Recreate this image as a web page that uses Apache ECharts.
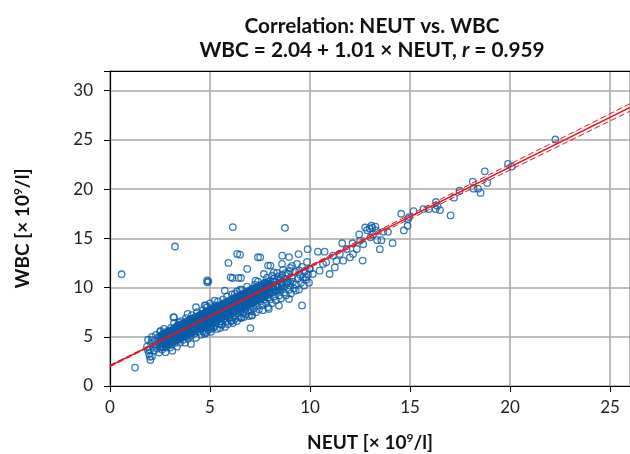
<!DOCTYPE html>
<html><head><meta charset="utf-8">
<script src="https://cdn.jsdelivr.net/npm/echarts@6/dist/echarts.min.js"></script>
<style>html,body{margin:0;padding:0;background:#fff}#c{width:630px;height:454px}</style>
</head><body><div id="c"></div>
<script>
// ---- data (NEUT x, WBC y) ----
const cloudLow = [[1.85,4.0],[1.9,4.7],[1.95,3.3],[2.0,3.7],[2.05,4.3],[2.1,3.0],[2.1,5.0],[2.15,4.0],[2.2,3.6],[2.25,4.6],[2.3,4.2],[2.3,5.2],[2.35,3.8],[2.4,4.9],[2.45,3.4],[2.5,4.4],[2.5,5.5],[2.55,4.0],[2.6,4.8],[2.6,3.7],[2.65,5.3],[2.7,4.3],[2.7,5.8],[2.75,4.9],[2.8,3.9],[2.8,4.6],[2.85,5.2],[2.9,4.2],[2.9,5.6],[2.95,4.8],[3.0,3.9],[3.0,5.0],[3.05,4.5],[3.05,5.9],[3.1,5.3],[3.1,4.2],[3.15,4.8],[3.2,5.6],[3.2,6.4],[3.25,4.4],[3.25,5.1],[3.3,4.9],[3.3,5.9],[3.35,4.0],[3.35,5.4],[3.4,6.2],[3.4,4.7],[3.45,5.2],[3.5,5.7],[3.5,4.4],[3.55,6.6],[3.55,5.0],[3.6,5.5],[3.6,6.0],[3.65,4.7],[3.7,5.2],[3.7,6.3],[3.75,5.8],[3.75,4.4],[3.8,5.5],[3.8,6.9],[3.85,5.0],[3.85,6.1],[3.9,5.7],[3.9,4.8],[3.95,6.4],[3.95,5.3],[2.02,2.64],[1.99,2.98],[1.89,3.66],[2.1,4.67],[3.2,6.97],[3.45,6.46],[3.88,7.32],[3.12,3.59],[2.78,3.42],[4.05,4.27],[2.53,5.6],[2.7,5.3]];
const cloudMid = [[4.0,5.9],[4.0,6.8],[4.05,5.1],[4.05,6.3],[4.1,5.6],[4.1,7.2],[4.15,6.0],[4.15,6.6],[4.2,5.3],[4.2,6.2],[4.25,7.0],[4.25,5.8],[4.3,6.5],[4.3,4.9],[4.35,6.0],[4.35,7.5],[4.4,5.5],[4.4,6.7],[4.45,6.2],[4.45,7.1],[4.5,5.8],[4.5,6.5],[4.55,5.2],[4.55,7.3],[4.6,6.1],[4.6,6.9],[4.65,5.6],[4.65,7.7],[4.7,6.4],[4.7,7.0],[4.75,5.9],[4.75,6.7],[4.8,5.4],[4.8,7.4],[4.85,6.2],[4.85,8.0],[4.9,6.8],[4.9,5.7],[4.95,7.2],[4.95,6.4],[5.0,6.0],[5.0,7.6],[5.0,8.4],[5.05,6.7],[5.05,5.5],[5.1,7.0],[5.1,6.3],[5.15,7.9],[5.15,5.9],[5.2,6.8],[5.2,7.4],[5.25,6.1],[5.25,8.2],[5.3,7.1],[5.3,6.5],[5.35,5.8],[5.35,7.7],[5.4,6.9],[5.4,8.6],[5.45,6.3],[5.45,7.4],[5.5,7.0],[5.5,5.9],[5.55,8.0],[5.55,6.6],[5.6,7.3],[5.6,6.2],[5.65,7.8],[5.65,8.8],[5.7,6.8],[5.7,7.5],[5.75,6.0],[5.75,8.3],[5.8,7.1],[5.8,6.5],[5.85,7.9],[5.85,9.1],[5.9,7.4],[5.9,6.3],[5.95,8.1],[5.95,6.9],[4.3,8.0],[4.73,8.2],[4.72,5.45],[5.06,5.96],[4.8,8.2],[5.23,8.67],[5.74,9.69],[5.57,6.3],[5.07,5.8],[4.74,5.29]];
const cloudHigh = [[6.0,7.2],[6.0,8.6],[6.05,6.6],[6.05,7.8],[6.1,7.0],[6.1,9.3],[6.15,8.2],[6.15,6.4],[6.2,7.6],[6.2,8.9],[6.25,7.1],[6.25,6.8],[6.3,8.4],[6.3,7.9],[6.35,6.6],[6.35,9.6],[6.4,7.4],[6.4,8.7],[6.45,8.0],[6.45,7.0],[6.5,9.1],[6.5,7.7],[6.55,6.9],[6.55,8.4],[6.6,8.0],[6.6,9.8],[6.65,7.4],[6.65,8.8],[6.7,7.0],[6.7,8.3],[6.75,9.3],[6.75,7.8],[6.8,8.6],[6.8,7.3],[6.85,10.1],[6.85,8.1],[6.9,7.6],[6.9,9.0],[6.95,8.4],[6.95,7.1],[7.0,9.5],[7.0,8.0],[7.05,7.6],[7.05,8.8],[7.1,9.9],[7.1,7.2],[7.15,8.4],[7.2,9.2],[7.2,7.9],[7.25,10.3],[7.25,8.7],[7.3,7.5],[7.3,9.6],[7.35,8.2],[7.4,9.0],[7.4,10.6],[7.45,7.8],[7.5,8.6],[7.5,9.4],[7.55,10.0],[7.6,8.2],[7.6,9.1],[7.65,7.7],[7.7,9.7],[7.7,8.8],[7.75,10.5],[7.8,8.4],[7.8,9.3],[7.85,11.0],[7.9,9.0],[7.9,8.0],[7.95,9.9],[6.24,9.35],[6.5,9.8],[7.28,10.7],[7.69,11.38],[8.19,11.55],[6.08,6.64],[6.58,6.98],[7.09,7.15],[7.94,7.83],[8.45,8.17],[8.95,8.84]];
const cloudTop = [[8.0,8.8],[8.0,10.3],[8.05,9.5],[8.1,8.4],[8.1,11.2],[8.15,9.9],[8.2,9.1],[8.25,10.6],[8.3,8.7],[8.3,9.6],[8.35,11.5],[8.4,10.1],[8.45,9.2],[8.5,10.8],[8.5,9.7],[8.55,8.9],[8.6,10.4],[8.65,11.8],[8.7,9.5],[8.7,10.0],[8.75,10.9],[8.8,9.2],[8.85,10.5],[8.9,11.4],[8.95,9.8],[9.0,10.2],[9.0,12.0],[9.05,9.4],[9.1,11.0],[9.15,10.6],[9.2,9.9],[9.25,11.6],[9.3,10.3],[9.35,12.4],[9.4,10.9],[9.45,9.8],[9.5,11.3],[9.55,10.5],[9.6,12.1],[9.65,11.0],[9.7,10.2],[9.75,11.7],[9.8,10.8],[9.85,12.6],[9.9,11.3],[9.95,10.5],[10.0,11.9],[9.29,9.69],[8.9,10.6],[9.46,11.72],[9.8,11.04],[9.97,11.9],[10.14,11.38],[10.48,11.72],[10.65,12.4],[10.81,12.56],[10.98,11.38],[11.15,13.24],[11.24,12.05],[11.32,12.7],[11.49,13.41],[11.66,12.73],[11.83,13.92],[12.0,13.07],[12.15,13.4],[12.34,13.92],[12.51,14.77],[12.66,14.4],[13.02,15.1],[13.15,15.4],[9.43,13.4],[9.88,13.9],[10.39,13.65],[10.73,13.65],[11.61,14.5],[12.13,14.5],[12.46,15.4],[12.98,16.0],[13.27,16.2],[13.3,15.8],[6.5,13.34],[7.51,13.07],[8.02,12.23],[8.61,13.24],[8.95,13.1],[8.6,12.4],[9.1,12.2],[6.13,10.97],[6.55,10.97],[4.92,10.63]];
const cloudCore = [[2.5,5.0],[2.5,4.2],[2.5,4.6],[2.6,4.3],[2.6,5.2],[2.6,4.8],[2.7,5.3],[2.7,4.4],[2.7,4.9],[2.8,4.5],[2.8,5.4],[2.8,5.0],[2.9,5.5],[2.9,4.6],[2.9,5.1],[3.0,4.7],[3.0,5.6],[3.0,5.2],[3.1,5.7],[3.1,4.8],[3.1,5.3],[3.2,4.9],[3.2,5.8],[3.2,5.4],[3.3,6.0],[3.3,4.9],[3.3,5.5],[3.4,5.0],[3.4,6.1],[3.4,5.6],[3.5,6.2],[3.5,5.1],[3.5,5.7],[3.6,5.2],[3.6,6.3],[3.6,5.8],[3.7,6.4],[3.7,5.3],[3.7,5.9],[3.8,5.4],[3.8,6.5],[3.8,6.0],[3.9,6.6],[3.9,5.5],[3.9,6.1],[4.0,5.6],[4.0,6.7],[4.0,6.2],[4.1,6.8],[4.1,5.7],[4.1,6.3],[4.2,5.8],[4.2,6.9],[4.2,6.4],[4.3,7.0],[4.3,5.9],[4.3,6.5],[4.4,6.0],[4.4,7.1],[4.4,6.6],[4.5,7.2],[4.5,6.1],[4.5,6.7],[4.6,6.2],[4.6,7.3],[4.6,6.8],[4.7,7.4],[4.7,6.3],[4.7,6.9],[4.8,6.4],[4.8,7.5],[4.8,7.0],[4.9,7.6],[4.9,6.5],[4.9,7.1],[5.0,6.6],[5.0,7.7],[5.0,7.2],[5.1,7.8],[5.1,6.7],[5.1,7.3],[5.2,6.8],[5.2,7.9],[5.2,7.4],[5.3,8.0],[5.3,6.9],[5.3,7.5],[5.4,7.0],[5.4,8.1],[5.4,7.6],[5.5,8.2],[5.5,7.1],[5.5,7.7],[5.6,7.2],[5.6,8.3],[5.6,7.8],[5.7,8.4],[5.7,7.3],[5.7,7.9],[5.8,7.4],[5.8,8.5],[5.8,8.0],[5.9,8.6],[5.9,7.5],[5.9,8.1],[6.0,7.6],[6.0,8.7],[6.0,8.2],[6.1,8.8],[6.1,7.7],[6.1,8.3],[6.2,7.8],[6.2,8.9],[6.2,8.4],[6.3,9.0],[6.3,7.9],[6.3,8.5],[6.4,8.0],[6.4,9.1],[6.4,8.6],[6.5,9.2],[6.5,8.1],[6.5,8.7],[6.6,8.2],[6.6,9.3],[6.6,8.8],[6.7,9.4],[6.7,8.3],[6.7,8.9],[6.8,8.4],[6.8,9.5],[6.8,9.0],[6.9,9.6],[6.9,8.5],[6.9,9.1],[7.0,8.6],[7.0,9.7],[7.0,9.2],[7.1,9.8],[7.1,8.7],[7.1,9.3],[7.2,8.8],[7.2,9.9],[7.2,9.4],[7.3,10.0],[7.3,8.9],[7.3,9.5],[7.4,9.0],[7.4,10.1],[7.4,9.6],[7.5,10.2],[7.5,9.1],[7.5,9.7],[7.6,9.2],[7.6,10.3],[7.6,9.8],[7.7,10.4],[7.7,9.3],[7.7,9.9],[7.8,9.4],[7.8,10.5],[7.8,10.0],[7.9,10.6],[7.9,9.5],[7.9,10.1],[8.0,9.6],[8.0,10.7],[8.0,10.2],[8.2,9.8],[8.2,10.9],[8.4,11.1],[8.4,10.0],[8.6,10.2],[8.6,11.3],[8.8,11.5],[8.8,10.4],[9.0,10.6],[9.0,11.7]];
const cloudCore2 = [[2.55,3.9],[2.55,4.5],[2.55,5.0],[2.65,4.0],[2.65,4.6],[2.65,5.1],[2.75,4.1],[2.75,4.7],[2.75,5.2],[2.85,4.2],[2.85,4.8],[2.85,5.3],[2.95,4.3],[2.95,4.9],[2.95,5.4],[3.05,4.4],[3.05,5.0],[3.05,5.5],[3.15,4.5],[3.15,5.1],[3.15,5.6],[3.25,4.6],[3.25,5.2],[3.25,5.7],[3.35,4.7],[3.35,5.3],[3.35,5.8],[3.45,4.8],[3.45,5.4],[3.45,5.9],[3.55,4.9],[3.55,5.5],[3.55,6.0],[3.65,5.0],[3.65,5.6],[3.65,6.1],[3.75,5.1],[3.75,5.7],[3.75,6.2],[3.85,5.2],[3.85,5.8],[3.85,6.3],[3.95,5.3],[3.95,5.9],[3.95,6.4],[4.05,5.4],[4.05,6.0],[4.05,6.5],[4.15,5.5],[4.15,6.1],[4.15,6.6],[4.25,5.6],[4.25,6.2],[4.25,6.7],[4.35,5.7],[4.35,6.3],[4.35,6.8],[4.45,5.8],[4.45,6.4],[4.45,6.9],[4.55,5.9],[4.55,6.5],[4.55,7.0],[4.65,6.0],[4.65,6.6],[4.65,7.1],[4.75,6.1],[4.75,6.7],[4.75,7.2],[4.85,6.2],[4.85,6.8],[4.85,7.3],[4.95,6.3],[4.95,6.9],[4.95,7.4],[5.05,6.4],[5.05,7.0],[5.05,7.5],[5.15,6.5],[5.15,7.1],[5.15,7.6],[5.25,6.6],[5.25,7.2],[5.25,7.7],[5.35,6.7],[5.35,7.3],[5.35,7.8],[5.45,6.8],[5.45,7.4],[5.45,7.9],[5.55,6.9],[5.55,7.5],[5.55,8.0],[5.65,7.0],[5.65,7.6],[5.65,8.1],[5.75,7.1],[5.75,7.7],[5.75,8.2],[5.85,7.2],[5.85,7.8],[5.85,8.3],[5.95,7.3],[5.95,7.9],[5.95,8.4],[6.05,7.4],[6.05,8.0],[6.05,8.5],[6.15,7.5],[6.15,8.1],[6.15,8.6],[6.25,7.6],[6.25,8.2],[6.25,8.7],[6.35,7.7],[6.35,8.3],[6.35,8.8],[6.45,7.8],[6.45,8.4],[6.45,8.9],[6.55,7.9],[6.55,8.5],[6.55,9.0],[6.65,8.0],[6.65,8.6],[6.65,9.1],[6.75,8.1],[6.75,8.7],[6.75,9.2],[6.85,8.2],[6.85,8.8],[6.85,9.3],[6.95,8.3],[6.95,8.9],[6.95,9.4],[7.05,8.4],[7.05,9.0],[7.05,9.5],[7.15,8.5],[7.15,9.1],[7.15,9.6],[7.25,8.6],[7.25,9.2],[7.25,9.7],[7.35,8.7],[7.35,9.3],[7.35,9.8],[7.45,8.8],[7.45,9.4],[7.45,9.9],[7.55,8.9],[7.55,9.5],[7.55,10.0],[7.65,9.0],[7.65,9.6],[7.65,10.1],[7.75,9.1],[7.75,9.7],[7.75,10.2],[7.85,9.2],[7.85,9.8],[7.85,10.3],[7.95,9.3],[7.95,9.9],[7.95,10.4],[8.15,9.5],[8.15,10.1],[8.15,10.6],[8.35,9.7],[8.35,10.3],[8.35,10.8],[8.55,9.9],[8.55,10.5],[8.55,11.0]];
const outliers = [[0.58,11.35],[3.25,14.17],[1.25,1.87],[6.14,16.14],[8.75,16.07],[4.86,10.74],[4.86,10.53],[6.36,13.42],[5.92,12.5],[6.03,11.04],[6.42,10.98],[6.86,11.89],[7.40,13.08],[7.90,12.23],[7.02,5.88],[9.6,8.19],[3.17,7.0],[12.76,16.1],[13.07,16.28],[13.12,16.07],[12.85,15.83],[12.63,12.74],[13.49,13.9],[13.57,14.81],[14.13,14.51],[13.36,14.81],[13.66,15.66],[13.9,15.66],[14.56,17.5],[14.69,15.8],[14.88,16.28],[14.95,17.16],[14.91,16.96],[15.18,17.77],[15.67,17.97],[15.94,17.97],[16.3,18.69],[16.37,18.31],[16.5,17.87],[16.28,17.97],[17.03,17.33],[17.2,19.13],[17.48,19.84],[18.14,20.76],[18.18,20.05],[18.4,20.05],[18.53,19.61],[18.74,21.81],[18.86,20.63],[19.9,22.56],[20.09,22.29],[22.27,25.04]];
// regression WBC = 2.04 + 1.01 x NEUT, with confidence band
const regX = [0, 26];
const regY = [2.04, 28.30];
const ciX = [0, 5, 10, 15, 20, 26];
const ciUpper = [2.12, 7.13, 12.25, 17.41, 22.54, 28.68];
const ciLower = [1.96, 7.05, 12.03, 16.97, 21.94, 27.92];
const xTicks = [0, 5, 10, 15, 20, 25];
const yTicks = [0, 5, 10, 15, 20, 25, 30];

const pts = [].concat(cloudLow, cloudMid, cloudHigh, cloudTop, cloudCore, cloudCore2, outliers);
const zip = (xs, ys) => xs.map((x, i) => [x, ys[i]]);
const FONT = 'Lato';
const BLUE = '#0a5ca8', RED = '#e8141c';

const nameStyle = {fontFamily: FONT, fontSize: 19, fontWeight: 'bold', color: '#111',
  rich: {s: {fontFamily: FONT, fontSize: 12, fontWeight: 'bold', color: '#111', padding: [0,0,10,0]}}};

const chart = echarts.init(document.getElementById('c'), null, {renderer: 'canvas'});
chart.setOption({
  animation: false,
  backgroundColor: '#fff',
  title: {
    text: 'Correlation: NEUT vs. WBC\nWBC = 2.04 + 1.01 × NEUT, {i|r} = 0.959',
    left: 367, top: 9, textAlign: 'center',
    textStyle: {fontFamily: FONT, fontSize: 20.8, fontWeight: 'bold', color: '#111', lineHeight: 24,
      rich: {i: {fontFamily: FONT, fontSize: 20.8, fontWeight: 'bold', fontStyle: 'italic', color: '#111', lineHeight: 24}}}
  },
  grid: {left: 110, right: 0, top: 71, bottom: 68, outerBoundsMode: 'none', containLabel: false},
  xAxis: [{
    type: 'value', min: 0, max: 26, interval: 5,
    name: 'NEUT [× 10{s|9}/l]', nameLocation: 'middle', nameGap: 46,
    nameTextStyle: nameStyle,
    axisLine: {show: true, onZero: false, lineStyle: {color: '#000', width: 1.2}},
    axisTick: {show: true, inside: false, length: 6, lineStyle: {color: '#000'}},
    axisLabel: {fontFamily: FONT, fontSize: 17, color: '#222', margin: 13,
      formatter: v => xTicks.indexOf(v) >= 0 ? String(v) : ''},
    splitLine: {show: true, lineStyle: {color: '#a9a9a9', width: 1.6}}
  }, {
    type: 'value', position: 'top', min: 0, max: 26,
    axisLine: {show: true, onZero: false, lineStyle: {color: '#000', width: 1.2}},
    axisTick: {show: false}, axisLabel: {show: false}, splitLine: {show: false}
  }],
  yAxis: {
    type: 'value', min: 0, max: 32, interval: 5,
    name: 'WBC [× 10{s|9}/l]', nameLocation: 'middle', nameGap: 76,
    nameTextStyle: nameStyle,
    axisLine: {show: true, onZero: false, lineStyle: {color: '#000', width: 1.2}},
    axisTick: {show: true, inside: false, length: 6, lineStyle: {color: '#000'}},
    axisLabel: {fontFamily: FONT, fontSize: 17, color: '#222', margin: 17,
      formatter: v => yTicks.indexOf(v) >= 0 ? String(v) : ''},
    splitLine: {show: true, lineStyle: {color: '#a9a9a9', width: 1.6}}
  },
  series: [
    {type: 'scatter', data: pts, symbol: 'circle', symbolSize: 6.5,
      itemStyle: {color: 'rgba(255,255,255,0)', borderColor: BLUE, borderWidth: 1.3}, silent: true},
    {type: 'line', data: zip(regX, regY), showSymbol: false, lineStyle: {color: RED, width: 1.5}, silent: true},
    {type: 'line', data: zip(ciX, ciUpper), showSymbol: false, lineStyle: {color: RED, width: 1, type: [6, 3]}, silent: true},
    {type: 'line', data: zip(ciX, ciLower), showSymbol: false, lineStyle: {color: RED, width: 1, type: [6, 3]}, silent: true}
  ]
});
</script></body></html>
